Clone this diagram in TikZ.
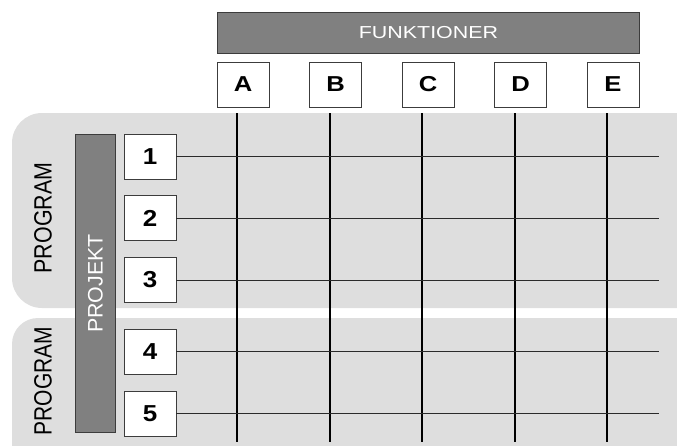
\documentclass[tikz,border=0pt]{standalone}
\usepackage{fontspec}
\setmainfont{Liberation Sans}
\begin{document}
\begin{tikzpicture}[x=1pt,y=-1pt,
  region/.style={fill=regiongray,draw=none},
  bar/.style={fill=bargray,draw=bordergray,line width=1pt,inner sep=0pt,text=white},
  cell/.style={fill=white,draw=bordergray,line width=0.9pt,inner sep=0pt,minimum width=52pt},
  letterbox/.style={cell,minimum height=45pt},
  numbox/.style={cell,minimum height=45pt},
  vline/.style={line width=1.1pt,black},
  hline/.style={line width=1pt,linegray},
  lbl/.style={inner sep=0pt}]
\definecolor{regiongray}{HTML}{DEDEDE}
\definecolor{bargray}{HTML}{808080}
\definecolor{bordergray}{HTML}{3C3C3C}
\definecolor{linegray}{HTML}{2A2A2A}
\useasboundingbox (0,0) rectangle (677,445);
\clip (0,0) rectangle (677,445);
% program regions
\fill[region,rounded corners=30pt] (12,113) rectangle (710,308);
\fill[region,rounded corners=26pt] (12,318) rectangle (710,480);
% vertical grid lines
\foreach \n/\x in {A/237,B/330,C/422,D/515,E/607}{
  \coordinate (t\n) at (\x,113);
  \coordinate (b\n) at (\x,442);
  \draw[vline] (t\n) -- (b\n);
}
% header bar
\node[bar,minimum width=422pt,minimum height=41pt,anchor=north west] (funk) at (217,12)
  {\scalebox{1.26}[1.02]{\fontsize{17}{17}\selectfont FUNKTIONER}};
% letter boxes
\foreach \n/\x in {A/243,B/335.5,C/428,D/520.5,E/613}{
  \node[letterbox] (\n) at (\x,84.5) {\scalebox{1.28}[1.08]{\fontsize{20}{20}\selectfont\bfseries \n}};
}
% projekt bar
\node[bar,minimum width=40pt,minimum height=298pt,anchor=north west] (projekt) at (75,134)
  {\rotatebox{90}{\scalebox{1.07}[1.05]{\fontsize{20}{20}\selectfont PROJEKT}}};
% program labels
\node[lbl] (prog1) at (43,218) {\rotatebox{90}{\scalebox{1.07}[1.25]{\fontsize{20}{20}\selectfont PROGRAM}}};
\node[lbl] (prog2) at (43,381) {\rotatebox{90}{\scalebox{1.05}[1.25]{\fontsize{20}{20}\selectfont PROGRAM}}};
% number boxes and row lines
\foreach \n/\y in {1/156.5,2/218,3/280,4/351.5,5/413.5}{
  \node[numbox] (n\n) at (150,\y) {\scalebox{1.18}[1.05]{\fontsize{22}{22}\selectfont\bfseries \n}};
  \coordinate (r\n) at (659,\y);
  \draw[hline] (n\n.east) -- (r\n);
}
\end{tikzpicture}
\end{document}
